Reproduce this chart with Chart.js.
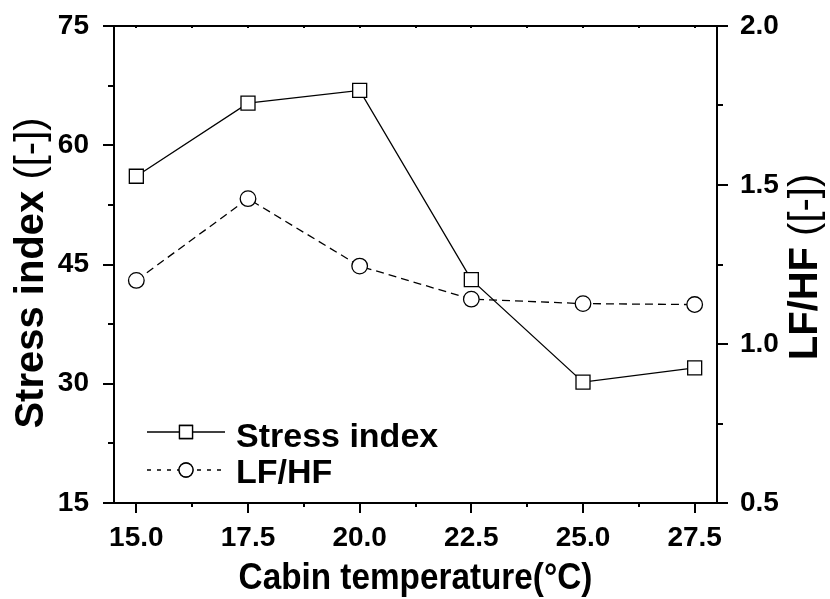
<!DOCTYPE html>
<html>
<head>
<meta charset="utf-8">
<script src="https://cdn.jsdelivr.net/npm/chart.js@4/dist/chart.umd.min.js"></script>
<style>
  html, body { margin: 0; padding: 0; background: #fff; }
  #wrap { width: 830px; height: 599px; }
</style>
</head>
<body>
<div id="wrap"><canvas id="c"></canvas></div>
<script>
// Cabin temperature (°C) and the two measured responses
const temperatures = [15.0, 17.5, 20.0, 22.5, 25.0, 27.5];
const stressIndex = [56.1, 65.3, 66.9, 43.1, 30.2, 32.0];
const lfhfRatio = [1.20, 1.457, 1.245, 1.141, 1.127, 1.124];

// Tick positions (every tick) and the labelled ones
const xTickValues = [15, 16.25, 17.5, 18.75, 20, 21.25, 22.5, 23.75, 25, 26.25, 27.5];
const xTickLabels = ['15.0', '17.5', '20.0', '22.5', '25.0', '27.5'];
const stressTickValues = [15, 22.5, 30, 37.5, 45, 52.5, 60, 67.5, 75];
const stressTickLabels = ['15', '30', '45', '60', '75'];
const lfhfTickValues = [0.5, 0.75, 1.0, 1.25, 1.5, 1.75, 2.0];
const lfhfTickLabels = ['0.5', '1.0', '1.5', '2.0'];

const FONT = "'Liberation Sans', Arial, Helvetica, sans-serif";

function labelFor(list, value) {
  const hit = list.find(l => Math.abs(parseFloat(l) - value) < 1e-9);
  return hit === undefined ? '' : hit;
}

// keep each axis box at a fixed size with no extra label padding
function fixBox(size, horizontal) {
  return s => {
    if (horizontal) { s.height = size; } else { s.width = size; }
    s.paddingTop = 0; s.paddingBottom = 0; s.paddingLeft = 0; s.paddingRight = 0;
  };
}

// Axis frame, tick marks, axis titles and the in-plot legend
const decorations = {
  id: 'decorations',
  afterDraw(chart) {
    const ctx = chart.ctx;
    const a = chart.chartArea;
    const sx = chart.scales.x, sl = chart.scales.y, sr = chart.scales.y1;
    ctx.save();
    ctx.strokeStyle = '#000';
    ctx.fillStyle = '#000';
    ctx.lineWidth = 2;

    // top frame line
    ctx.beginPath();
    ctx.moveTo(a.left - 1, a.top);
    ctx.lineTo(a.right + 1, a.top);
    ctx.stroke();

    // x ticks (outward below, small inward marks on top)
    xTickValues.forEach(v => {
      const px = Math.round(sx.getPixelForValue(v));
      const major = labelFor(xTickLabels, v) !== '';
      ctx.beginPath();
      ctx.moveTo(px, a.bottom);
      ctx.lineTo(px, a.bottom + (major ? 10 : 4));
      ctx.moveTo(px, a.top);
      ctx.lineTo(px, a.top + 2);
      ctx.stroke();
    });
    // left ticks
    stressTickValues.forEach(v => {
      const py = Math.round(sl.getPixelForValue(v));
      const major = labelFor(stressTickLabels, v) !== '';
      ctx.beginPath();
      ctx.moveTo(a.left, py);
      ctx.lineTo(a.left - (major ? 11 : 6), py);
      ctx.stroke();
    });
    // right ticks
    lfhfTickValues.forEach(v => {
      const py = Math.round(sr.getPixelForValue(v));
      const major = labelFor(lfhfTickLabels, v) !== '';
      ctx.beginPath();
      ctx.moveTo(a.right, py);
      ctx.lineTo(a.right + (major ? 11 : 6), py);
      ctx.stroke();
    });

    // x title
    ctx.textAlign = 'center';
    ctx.textBaseline = 'alphabetic';
    ctx.font = `bold 37px ${FONT}`;
    ctx.save();
    ctx.translate((a.left + a.right) / 2, 589);
    ctx.scale(0.9, 1);
    ctx.fillText('Cabin temperature(°C)', 0, 0);
    ctx.restore();

    // rotated titles with a bold name and a regular unit part
    function rotatedTitle(boldPart, unitPart, baselineX, centerY) {
      ctx.save();
      ctx.translate(baselineX, centerY);
      ctx.rotate(-Math.PI / 2);
      ctx.textAlign = 'left';
      ctx.textBaseline = 'alphabetic';
      ctx.font = `bold 40px ${FONT}`;
      const w1 = ctx.measureText(boldPart).width;
      ctx.font = `40px ${FONT}`;
      const w2 = ctx.measureText(unitPart).width;
      const start = -(w1 + w2) / 2;
      ctx.font = `bold 40px ${FONT}`;
      ctx.fillText(boldPart, start, 0);
      ctx.font = `40px ${FONT}`;
      ctx.fillText(unitPart, start + w1, 0);
      ctx.restore();
    }
    rotatedTitle('Stress index ', '([-])', 43, 273);
    rotatedTitle('LF/HF ', '([-])', 817, 267);

    // legend
    const rows = [
      { ds: chart.data.datasets[0], y: a.bottom - 71, dash: [], baseline: a.bottom - 56 },
      { ds: chart.data.datasets[1], y: a.bottom - 33, dash: [4, 6], baseline: a.bottom - 20 }
    ];
    const x0 = a.left + 33, x1 = a.left + 111, xm = a.left + 72;
    rows.forEach(r => {
      ctx.lineWidth = 1.3;
      ctx.setLineDash(r.dash);
      ctx.beginPath();
      ctx.moveTo(x0, r.y);
      ctx.lineTo(x1, r.y);
      ctx.stroke();
      ctx.setLineDash([]);
      Chart.helpers.drawPoint(ctx, {
        pointStyle: r.ds.pointStyle,
        radius: r.ds.pointStyle === 'rect' ? 9.2 : 7,
        borderWidth: 1.3,
        rotation: 0
      }, xm, r.y);
      ctx.fillStyle = '#fff';
      ctx.fill();
      ctx.stroke();
      ctx.fillStyle = '#000';
      ctx.font = `bold 34px ${FONT}`;
      ctx.textAlign = 'left';
      ctx.textBaseline = 'alphabetic';
      ctx.fillText(r.ds.label, a.left + 122, r.baseline);
    });
    ctx.restore();
  }
};

const axisBorder = { display: true, color: '#000', width: 2 };
const tickFont = { family: FONT, size: 28, weight: 'bold' };

new Chart(document.getElementById('c'), {
  type: 'line',
  data: {
    datasets: [
      {
        label: 'Stress index',
        data: temperatures.map((t, i) => ({ x: t, y: stressIndex[i] })),
        yAxisID: 'y',
        borderColor: '#000',
        borderWidth: 1.3,
        pointStyle: 'rect',
        pointRadius: 9.9,
        pointBackgroundColor: '#fff',
        pointBorderColor: '#000',
        pointBorderWidth: 1.3,
        tension: 0
      },
      {
        label: 'LF/HF',
        data: temperatures.map((t, i) => ({ x: t, y: lfhfRatio[i] })),
        yAxisID: 'y1',
        borderColor: '#000',
        borderWidth: 1.3,
        borderDash: [8, 5],
        pointStyle: 'circle',
        pointRadius: 7.8,
        pointBackgroundColor: '#fff',
        pointBorderColor: '#000',
        pointBorderWidth: 1.3,
        tension: 0
      }
    ]
  },
  options: {
    responsive: true,
    maintainAspectRatio: false,
    animation: false,
    layout: { padding: { top: 26, left: 0, right: 0, bottom: 0 } },
    plugins: { legend: { display: false }, tooltip: { enabled: false } },
    scales: {
      x: {
        type: 'linear',
        position: 'bottom',
        min: 14.5,
        max: 28,
        afterBuildTicks: s => { s.ticks = xTickValues.map(v => ({ value: v })); },
        afterFit: fixBox(96, true),
        grid: { display: false },
        border: axisBorder,
        ticks: {
          autoSkip: false,
          maxRotation: 0,
          color: '#000',
          font: tickFont,
          padding: 10,
          callback: v => labelFor(xTickLabels, v)
        }
      },
      y: {
        type: 'linear',
        position: 'left',
        min: 15,
        max: 75,
        afterBuildTicks: s => { s.ticks = stressTickValues.map(v => ({ value: v })); },
        afterFit: fixBox(114, false),
        grid: { display: false },
        border: axisBorder,
        ticks: {
          autoSkip: false,
          color: '#000',
          font: tickFont,
          padding: 17,
          callback: v => labelFor(stressTickLabels, v)
        }
      },
      y1: {
        type: 'linear',
        position: 'right',
        min: 0.5,
        max: 2.0,
        afterBuildTicks: s => { s.ticks = lfhfTickValues.map(v => ({ value: v })); },
        afterFit: fixBox(113, false),
        grid: { display: false },
        border: axisBorder,
        ticks: {
          autoSkip: false,
          color: '#000',
          font: tickFont,
          padding: 15,
          callback: v => labelFor(lfhfTickLabels, v)
        }
      }
    }
  },
  plugins: [decorations]
});
</script>
</body>
</html>
